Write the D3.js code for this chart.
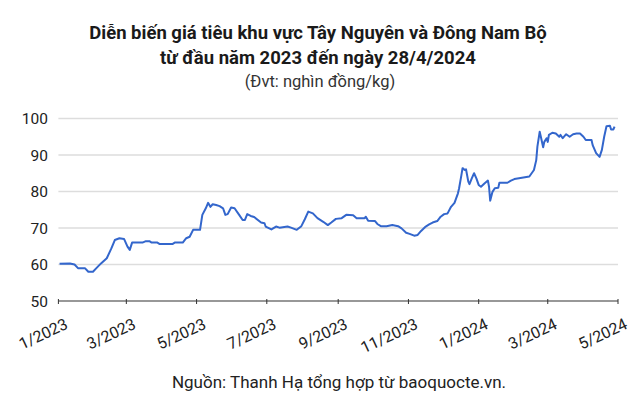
<!DOCTYPE html>
<html>
<head>
<meta charset="utf-8">
<script src="https://cdn.jsdelivr.net/npm/d3@7"></script>
<style>
  body { margin: 0; background: #fff; }
  svg { font-family: Roboto, "Noto Sans", sans-serif; }
</style>
</head>
<body>
<div><svg width="640" height="420"></svg></div>
<script>
let dates = [
    "2023-01-02", "2023-01-11", "2023-01-15", "2023-01-18", "2023-01-24", "2023-01-27", "2023-01-31",
    "2023-02-03", "2023-02-07", "2023-02-12", "2023-02-16", "2023-02-19", "2023-02-23", "2023-02-27",
    "2023-03-02", "2023-03-04", "2023-03-06", "2023-03-15", "2023-03-18", "2023-03-21", "2023-03-23", "2023-03-28", "2023-03-30",
    "2023-04-10", "2023-04-12", "2023-04-19", "2023-04-22", "2023-04-25", "2023-04-28",
    "2023-05-04", "2023-05-06", "2023-05-09", "2023-05-11", "2023-05-13", "2023-05-15", "2023-05-18", "2023-05-21", "2023-05-24", "2023-05-26", "2023-05-28", "2023-05-31",
    "2023-06-03", "2023-06-07", "2023-06-10", "2023-06-12", "2023-06-14", "2023-06-17", "2023-06-20", "2023-06-26", "2023-06-29", "2023-06-30",
    "2023-07-05", "2023-07-09", "2023-07-12", "2023-07-19", "2023-07-22", "2023-07-27", "2023-07-31",
    "2023-08-03", "2023-08-06", "2023-08-10", "2023-08-14", "2023-08-19", "2023-08-23", "2023-08-26", "2023-08-30",
    "2023-09-04", "2023-09-08", "2023-09-14", "2023-09-17", "2023-09-24", "2023-09-25", "2023-09-27",
    "2023-10-03", "2023-10-05", "2023-10-08", "2023-10-13", "2023-10-18", "2023-10-23", "2023-10-26", "2023-10-30",
    "2023-11-02", "2023-11-06", "2023-11-09", "2023-11-12", "2023-11-16", "2023-11-19", "2023-11-22", "2023-11-26", "2023-11-29",
    "2023-12-02", "2023-12-05", "2023-12-08", "2023-12-11", "2023-12-14", "2023-12-15", "2023-12-17", "2023-12-18", "2023-12-20",
    "2023-12-21", "2023-12-23", "2023-12-24", "2023-12-26", "2023-12-28", "2023-12-30",
    "2024-01-01", "2024-01-03", "2024-01-06", "2024-01-09", "2024-01-10", "2024-01-11", "2024-01-13", "2024-01-15", "2024-01-18",
    "2024-01-19", "2024-01-26", "2024-01-29",
    "2024-02-01", "2024-02-05", "2024-02-14", "2024-02-18", "2024-02-20", "2024-02-21", "2024-02-23", "2024-02-24", "2024-02-26",
    "2024-02-27", "2024-02-29",
    "2024-03-01", "2024-03-02", "2024-03-05", "2024-03-08", "2024-03-11", "2024-03-12", "2024-03-14", "2024-03-17", "2024-03-20",
    "2024-03-23", "2024-03-26", "2024-03-29",
    "2024-04-01", "2024-04-03", "2024-04-08", "2024-04-09", "2024-04-12", "2024-04-15", "2024-04-17", "2024-04-19", "2024-04-21",
    "2024-04-24", "2024-04-25", "2024-04-27", "2024-04-28"
];

let prices = [
    60.2, 60.3, 60.0, 59.0, 59.0, 58.0, 58.0,
    59.0, 60.3, 61.7, 64.4, 66.7, 67.2, 67.0,
    64.9, 64.0, 66.0, 66.0, 66.4, 66.4, 66.0, 66.0, 65.6,
    65.6, 66.0, 66.0, 67.2, 67.6, 69.5,
    69.5, 73.6, 75.4, 76.9, 75.8, 76.5, 76.3, 76.0, 75.4, 73.6, 73.8, 75.6,
    75.4, 73.6, 72.2, 72.2, 73.8, 73.3, 73.0, 71.5, 71.3, 70.4,
    69.6, 70.4, 70.1, 70.4, 70.1, 69.5, 70.5,
    72.4, 74.5, 74.0, 72.7, 71.7, 70.8, 71.5, 72.5,
    72.7, 73.6, 73.5, 72.7, 72.7, 73.1, 72.0,
    71.9, 71.1, 70.5, 70.5, 70.8, 70.5, 69.9, 68.7,
    68.4, 67.9, 68.1, 69.2, 70.4, 71.0, 71.5, 71.9, 73.1,
    73.8, 74.0, 75.8, 76.9, 79.5, 80.9, 84.5, 86.4, 85.9,
    86.1, 82.7, 82.0, 83.6, 85.0, 83.6,
    81.8, 81.3, 82.2, 83.0, 81.3, 77.5, 79.9, 80.9, 81.0,
    82.4, 82.4, 83.0,
    83.4, 83.6, 84.1, 85.9, 88.6, 92.3, 96.4, 95.0, 92.1,
    93.6, 94.6,
    93.6, 95.5, 96.1, 95.9, 95.0, 95.5, 94.6, 95.7, 95.0,
    95.7, 95.9, 95.9,
    95.0, 94.1, 94.1, 92.7, 90.5, 89.5, 91.4, 95.0, 97.9,
    98.0, 97.0, 97.0, 97.8
];

let xTickDates = ["2023-01-01", "2023-03-01", "2023-05-01", "2023-07-01", "2023-09-01", "2023-11-01", "2024-01-01", "2024-03-01", "2024-05-01"];
let xTickLabels = ["1/2023", "3/2023", "5/2023", "7/2023", "9/2023", "11/2023", "1/2024", "3/2024", "5/2024"];
let yTicks = [50, 60, 70, 80, 90, 100];

let parseDate = d3.timeParse("%Y-%m-%d");
let data = dates.map(function(d, i) {
    return { date: parseDate(d), value: prices[i] };
});

let svg = d3.select("body").select("div").select("svg");

let xdim = d3.scaleTime()
    .domain([parseDate(xTickDates[0]), parseDate(xTickDates[xTickDates.length - 1])])
    .range([58.4, 618]);
let ydim = d3.scaleLinear().domain([50, 100]).range([301, 118.5]);

// title
let title = svg.append("g").attr("text-anchor", "middle").style("fill", "#1a1a1a");
title.append("text").attr("x", 318).attr("y", 39)
    .style("font-size", "18.5px").style("font-weight", "bold")
    .text("Diễn biến giá tiêu khu vực Tây Nguyên và Đông Nam Bộ");
title.append("text").attr("x", 318).attr("y", 64)
    .style("font-size", "18.5px").style("font-weight", "bold")
    .text("từ đầu năm 2023 đến ngày 28/4/2024");
title.append("text").attr("x", 320).attr("y", 87)
    .style("font-size", "16.5px").style("fill", "#333")
    .text("(Đvt: nghìn đồng/kg)");

// grid lines
svg.append("g").selectAll("line")
    .data(yTicks.slice(1))
    .enter()
    .append("line")
    .attr("x1", xdim.range()[0])
    .attr("x2", xdim.range()[1])
    .attr("y1", function(d) { return ydim(d); })
    .attr("y2", function(d) { return ydim(d); })
    .style("stroke", "#dddddd")
    .style("stroke-width", 1.5);

// y labels
svg.append("g").selectAll("text")
    .data(yTicks)
    .enter()
    .append("text")
    .attr("x", 48)
    .attr("y", function(d) { return ydim(d); })
    .attr("dy", "0.36em")
    .attr("text-anchor", "end")
    .style("font-size", "15.5px")
    .style("fill", "#222")
    .text(function(d) { return d; });

// x axis
let xAxis = svg.append("g");
xAxis.append("line")
    .attr("x1", xdim.range()[0]).attr("x2", xdim.range()[1])
    .attr("y1", ydim(50)).attr("y2", ydim(50))
    .style("stroke", "#333").style("stroke-width", 1.2);

xAxis.selectAll(".tick")
    .data(xTickDates)
    .enter()
    .append("line")
    .attr("class", "tick")
    .attr("x1", function(d) { return xdim(parseDate(d)); })
    .attr("x2", function(d) { return xdim(parseDate(d)); })
    .attr("y1", ydim(50) - 2)
    .attr("y2", ydim(50) + 3)
    .style("stroke", "#333");

xAxis.selectAll(".xlabel")
    .data(xTickDates)
    .enter()
    .append("text")
    .attr("class", "xlabel")
    .attr("transform", function(d) {
        return "translate(" + (xdim(parseDate(d)) + 10.5) + ",328) rotate(-25)";
    })
    .attr("text-anchor", "end")
    .style("font-size", "16px")
    .style("fill", "#222")
    .text(function(d, i) { return xTickLabels[i]; });

// price line
let line = d3.line()
    .x(function(d) { return xdim(d.date); })
    .y(function(d) { return ydim(d.value); });

svg.append("path")
    .datum(data)
    .attr("d", line)
    .style("fill", "none")
    .style("stroke", "#3366cc")
    .style("stroke-width", 2)
    .style("stroke-linejoin", "round");

// source
svg.append("text")
    .attr("x", 339)
    .attr("y", 388)
    .attr("text-anchor", "middle")
    .style("font-size", "17px")
    .style("fill", "#222")
    .text("Nguồn: Thanh Hạ tổng hợp từ baoquocte.vn.");
</script>
</body>
</html>
